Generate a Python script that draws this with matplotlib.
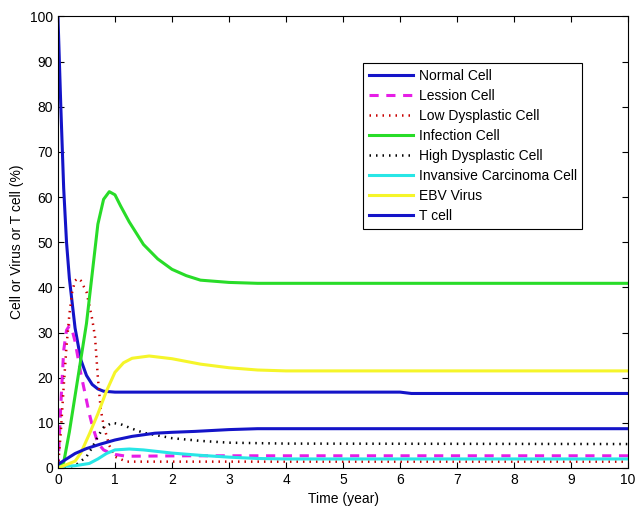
import matplotlib
matplotlib.use('Agg')
import matplotlib.pyplot as plt
import numpy as np

plt.rcParams['font.family'] = ['Liberation Sans', 'DejaVu Sans']

# 各曲线读数（时间, 百分比）
normal_t = [0, 0.05, 0.1, 0.15, 0.2, 0.3, 0.4, 0.5, 0.6, 0.7, 0.8, 1.0, 2.0, 6.0, 6.2, 10]
normal_y = [100, 80, 62, 50, 42, 31, 24, 20.5, 18.5, 17.5, 17.0, 16.8, 16.8, 16.8, 16.5, 16.5]

lesion_t = [0, 0.05, 0.1, 0.15, 0.2, 0.25, 0.3, 0.4, 0.5, 0.55, 0.6, 0.7, 0.8, 0.9, 1.0, 1.2, 2.3, 10]
lesion_y = [0, 14, 26, 30.5, 31.5, 30.5, 28, 21, 15, 12, 9.5, 5.5, 4.0, 3.4, 3.0, 2.6, 2.7, 2.7]

lowd_t = [0, 0.05, 0.1, 0.15, 0.2, 0.25, 0.3, 0.35, 0.4, 0.5, 0.6, 0.65, 0.7, 0.75, 0.8, 0.9, 1.0, 1.2, 10]
lowd_y = [0, 8, 18, 27, 34, 39, 41.5, 42, 41.5, 39, 33, 29, 20, 13, 9.5, 5, 2.5, 1.4, 1.4]

infect_t = [0, 0.1, 0.2, 0.3, 0.4, 0.5, 0.6, 0.7, 0.8, 0.9, 1.0, 1.1, 1.25, 1.5, 1.75, 2.0, 2.25, 2.5, 3.0, 3.5, 10]
infect_y = [0.5, 1.2, 8, 16, 24, 32, 43, 54, 59.5, 61.2, 60.5, 58, 54.5, 49.5, 46.3, 44, 42.6, 41.6, 41.1, 40.9, 40.9]

highd_t = [0, 0.3, 0.5, 0.6, 0.7, 0.8, 0.95, 1.1, 1.3, 1.5, 2.0, 2.5, 3.0, 4.0, 10]
highd_y = [0, 0.5, 2.5, 4.5, 7, 9, 10, 9.7, 8.7, 7.8, 6.6, 6.0, 5.6, 5.4, 5.3]

invas_t = [0, 0.3, 0.55, 0.7, 0.85, 1.0, 1.25, 1.5, 2.0, 2.5, 3.0, 3.5, 4.0, 10]
invas_y = [0.3, 0.5, 1.0, 2.0, 3.2, 4.0, 4.2, 4.0, 3.3, 2.8, 2.4, 2.1, 2.0, 2.0]

ebv_t = [0, 0.3, 0.4, 0.55, 0.7, 0.85, 1.0, 1.15, 1.3, 1.6, 2.0, 2.5, 3.0, 3.5, 4.0, 10]
ebv_y = [0, 1.5, 3.3, 7.5, 12, 17, 21.2, 23.3, 24.3, 24.8, 24.2, 23, 22.2, 21.7, 21.5, 21.5]

tcell_t = [0, 0.3, 0.5, 0.75, 1.0, 1.3, 1.7, 2.0, 2.4, 2.7, 3.0, 3.5, 10]
tcell_y = [0.8, 3.2, 4.3, 5.3, 6.2, 7.0, 7.7, 7.9, 8.1, 8.3, 8.5, 8.7, 8.7]

fig = plt.figure(figsize=(6.37, 5.09), dpi=100)
ax = fig.add_axes([0.091, 0.0806, 0.895, 0.887])

ax.plot(normal_t, normal_y, color='#1414c8', lw=2.2, label='Normal Cell')
ax.plot(lesion_t, lesion_y, color='#e61ee6', lw=2.2, ls=(0, (3, 2.5)), label='Lession Cell')
ax.plot(lowd_t, lowd_y, color='#c80000', lw=1.8, ls=(0, (0.6, 2)), label='Low Dysplastic Cell')
ax.plot(infect_t, infect_y, color='#28dc28', lw=2.2, label='Infection Cell')
ax.plot(highd_t, highd_y, color='black', lw=1.8, ls=(0, (0.6, 2)), label='High Dysplastic Cell')
ax.plot(invas_t, invas_y, color='#28e6e6', lw=2.2, label='Invansive Carcinoma Cell')
ax.plot(ebv_t, ebv_y, color='#f5f52a', lw=2.2, label='EBV Virus')
ax.plot(tcell_t, tcell_y, color='#1414c8', lw=2.2, label='T cell')

ax.set_xlim(0, 10)
ax.set_ylim(0, 100)
ax.set_xticks(range(0, 11))
ax.set_yticks(range(0, 101, 10))
ax.tick_params(direction='in', top=True, right=True, labelsize=10, length=4)
ax.set_xlabel('Time (year)', fontsize=10)
ax.set_ylabel('Cell or Virus or T cell (%)', fontsize=10)

leg = ax.legend(loc='upper left', bbox_to_anchor=(0.535, 0.897), fontsize=10,
                frameon=True, fancybox=False, edgecolor='black', framealpha=1,
                handlelength=3.2, handletextpad=0.4, labelspacing=0.44,
                borderpad=0.4, borderaxespad=0)
leg.get_frame().set_linewidth(0.8)

fig.savefig('out.png', dpi=100)
